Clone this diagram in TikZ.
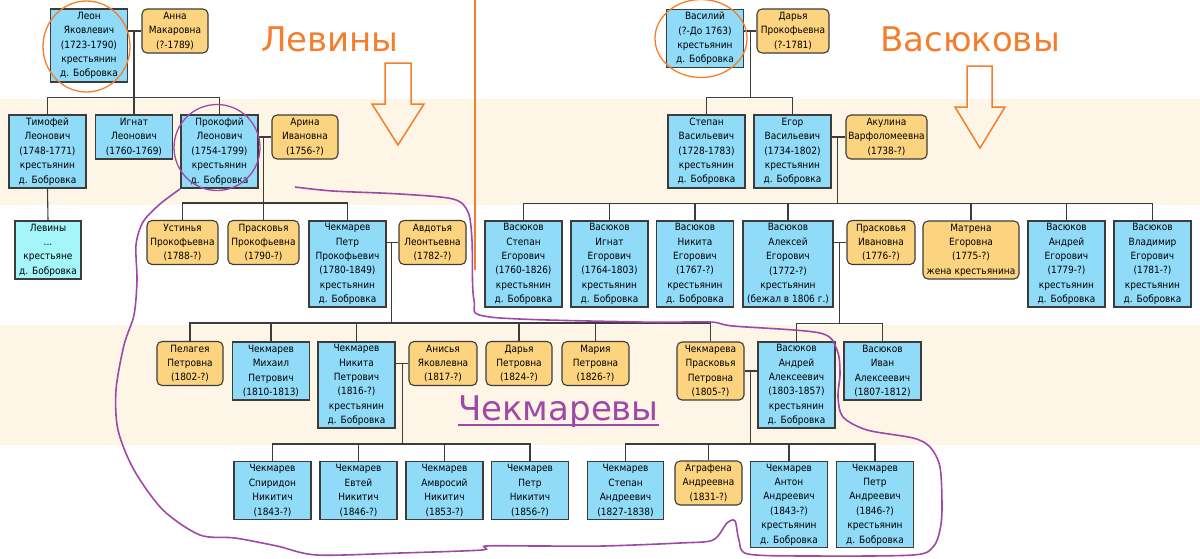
\documentclass[tikz,border=0pt]{standalone}
\usepackage{fontspec}
\setmainfont{DejaVu Sans Condensed}
\newfontfamily\headfont{DejaVu Sans}
\usepackage{xcolor}
\usepackage{tikz}
\usetikzlibrary{calc}

\definecolor{manblue}{RGB}{143,219,248}
\definecolor{womanorange}{RGB}{252,212,127}
\definecolor{kincyan}{RGB}{164,246,248}
\definecolor{bandbeige}{RGB}{253,245,229}
\definecolor{clanorange}{RGB}{244,126,45}
\definecolor{clanpurple}{RGB}{160,72,168}
\definecolor{treeline}{RGB}{60,60,60}

\begin{document}
\begin{tikzpicture}[x=1pt, y=-1pt,
    font=\fontsize{10}{14.4}\selectfont,
    man/.style={draw=treeline, fill=manblue, line width=1.1pt, align=center,
      inner sep=0pt, minimum width=77},
    woman/.style={man, fill=womanorange, rounded corners=5pt, minimum width=67},
    kin/.style={man, fill=kincyan, minimum width=66},
    l3/.style={minimum height=44}, l4/.style={minimum height=58},
    l5/.style={minimum height=73}, l6/.style={minimum height=86},
    link/.style={draw=treeline, line width=1.1pt},
    clan/.style={font=\headfont\fontsize{34}{40}\selectfont, inner sep=0pt},
    ring/.style={line width=1.3pt}]
    \useasboundingbox (0,0) rectangle (1200,558);
    \fill[bandbeige] (0,99) rectangle (1200,205);
    \fill[bandbeige] (0,325) rectangle (1200,445);

    % Levin side
    \node[man, l5] (leon) at (89,45.5) {Леон\\Яковлевич\\(1723-1790)\\крестьянин\\д. Бобровка};
    \node[woman, l3, minimum width=66] (anna) at (175,31) {Анна\\Макаровна\\(?-1789)};
    \node[man, l5] (timofej) at (47.5,151.5) {Тимофей\\Леонович\\(1748-1771)\\крестьянин\\д. Бобровка};
    \node[man, l3] (ignat) at (134,137) {Игнат\\Леонович\\(1760-1769)};
    \node[man, l5] (prokofij) at (219.5,151.5) {Прокофий\\Леонович\\(1754-1799)\\крестьянин\\д. Бобровка};
    \node[woman, l3, minimum width=66] (arina) at (305,137) {Арина\\Ивановна\\(1756-?)};
    \node[kin, l4] (levin) at (48,250) {Левины\\...\\крестьяне\\д. Бобровка};
    \node[woman, l3, minimum width=71] (ustinja) at (182.5,242.5) {Устинья\\Прокофьевна\\(1788-?)};
    \node[woman, l3, minimum width=71] (praskovja1) at (263.5,242.5) {Прасковья\\Прокофьевна\\(1790-?)};
    \node[man, l6] (petr) at (347.5,264) {Чекмарев\\Петр\\Прокофьевич\\(1780-1849)\\крестьянин\\д. Бобровка};
    \node[woman, l3] (avdotja) at (432.5,242.5) {Авдотья\\Леонтьевна\\(1782-?)};

    % Chekmarev rows
    \node[woman, l3, minimum width=66] (pelageja) at (190,363.5) {Пелагея\\Петровна\\(1802-?)};
    \node[man, l4] (mikhail) at (271,371) {Чекмарев\\Михаил\\Петрович\\(1810-1813)};
    \node[man, l6] (nikita) at (356.5,385) {Чекмарев\\Никита\\Петрович\\(1816-?)\\крестьянин\\д. Бобровка};
    \node[woman, l3, minimum width=68] (anisja) at (443,363.5) {Анисья\\Яковлевна\\(1817-?)};
    \node[woman, l3, minimum width=66] (darja2) at (519,363.5) {Дарья\\Петровна\\(1824-?)};
    \node[woman, l3] (marija) at (595.5,363.5) {Мария\\Петровна\\(1826-?)};
    \node[woman, l4] (praskovja3) at (710.5,371) {Чекмарева\\Прасковья\\Петровна\\(1805-?)};
    \node[man, l4] (spiridon) at (272.5,490.5) {Чекмарев\\Спиридон\\Никитич\\(1843-?)};
    \node[man, l4] (evtej) at (358.5,490.5) {Чекмарев\\Евтей\\Никитич\\(1846-?)};
    \node[man, l4] (amvrosij) at (444.5,490.5) {Чекмарев\\Амвросий\\Никитич\\(1853-?)};
    \node[man, l4] (petrN) at (530,490.5) {Чекмарев\\Петр\\Никитич\\(1856-?)};
    \node[man, l4, minimum width=76] (stepanA) at (625.5,490.5) {Чекмарев\\Степан\\Андреевич\\(1827-1838)};
    \node[woman, l3] (agrafena) at (708.5,483) {Аграфена\\Андреевна\\(1831-?)};
    \node[man, l6] (anton) at (789,504.5) {Чекмарев\\Антон\\Андреевич\\(1843-?)\\крестьянин\\д. Бобровка};
    \node[man, l6] (petrA) at (875,504.5) {Чекмарев\\Петр\\Андреевич\\(1846-?)\\крестьянин\\д. Бобровка};

    % Vasjukov side
    \node[man, l4] (vasilij) at (705,38.5) {Василий\\(?-До 1763)\\крестьянин\\д. Бобровка};
    \node[woman, l3, minimum width=72] (darja) at (793,31) {Дарья\\Прокофьевна\\(?-1781)};
    \node[man, l5] (stepan) at (706.5,151.5) {Степан\\Васильевич\\(1728-1783)\\крестьянин\\д. Бобровка};
    \node[man, l5] (egor) at (792.5,151.5) {Егор\\Васильевич\\(1734-1802)\\крестьянин\\д. Бобровка};
    \node[woman, l3, minimum width=81] (akulina) at (886.5,137) {Акулина\\Варфоломеевна\\(1738-?)};
    \node[man, l6] (vstepan) at (523.5,264) {Васюков\\Степан\\Егорович\\(1760-1826)\\крестьянин\\д. Бобровка};
    \node[man, l6] (vignat) at (609.5,264) {Васюков\\Игнат\\Егорович\\(1764-1803)\\крестьянин\\д. Бобровка};
    \node[man, l6] (vnikita) at (695,264) {Васюков\\Никита\\Егорович\\(1767-?)\\крестьянин\\д. Бобровка};
    \node[man, l6, minimum width=90] (aleksej) at (788,264) {Васюков\\Алексей\\Егорович\\(1772-?)\\крестьянин\\(бежал в 1806 г.)};
    \node[woman, l3, minimum width=68] (praskovja2) at (881,242.5) {Прасковья\\Ивановна\\(1776-?)};
    \node[woman, l4, minimum width=96] (matrena) at (971,250) {Матрена\\Егоровна\\(1775-?)\\жена крестьянина};
    \node[man, l6] (andrej) at (1066.5,264) {Васюков\\Андрей\\Егорович\\(1779-?)\\крестьянин\\д. Бобровка};
    \node[man, l6] (vladimir) at (1152.5,264) {Васюков\\Владимир\\Егорович\\(1781-?)\\крестьянин\\д. Бобровка};
    \node[man, l6] (andrejA) at (796.5,385) {Васюков\\Андрей\\Алексеевич\\(1803-1857)\\крестьянин\\д. Бобровка};
    \node[man, l4] (ivan) at (882.5,371) {Васюков\\Иван\\Алексеевич\\(1807-1812)};

    % couples and children
    \draw[link] (leon.east |- anna.west) -- (anna.west);
    \coordinate (jLeon) at (ignat.north |- anna.west);
    \draw[link] (jLeon) -- (ignat.north);
    \draw[link] (timofej.north) -- ++(0,-17) -| (prokofij.north);
    \draw[link] (timofej.south) -- (levin.north);

    \draw[link] (prokofij.east |- arina.west) -- (arina.west);
    \coordinate (jProk) at (praskovja1.north |- arina.west);
    \draw[link] (jProk) -- (praskovja1.north);
    \draw[link] (ustinja.north) -- ++(0,-17) -| (petr.north);

    \draw[link] (petr.east |- avdotja.west) -- (avdotja.west);
    \coordinate (jPetr) at ($(petr.east |- avdotja.west)+(5,0)$);
    \draw[link] (pelageja.north) -- ++(0,-18) coordinate (barPetr) -| (praskovja3.north);
    \draw[link] (jPetr) -- (jPetr |- barPetr);
    \foreach \c in {mikhail,nikita,darja2,marija}
      \draw[link] (\c.north) -- (\c.north |- barPetr);

    \draw[link] (nikita.east |- anisja.west) -- (anisja.west);
    \coordinate (jNik) at ($(nikita.east |- anisja.west)+(7,0)$);
    \draw[link] (spiridon.north) -- ++(0,-17) coordinate (barNik) -| (petrN.north);
    \draw[link] (jNik) -- (jNik |- barNik);
    \foreach \c in {evtej,amvrosij}
      \draw[link] (\c.north) -- (\c.north |- barNik);

    \draw[link] (vasilij.east |- darja.west) -- (darja.west);
    \coordinate (jVas) at ($(vasilij.east |- darja.west)+(6,0)$);
    \draw[link] (stepan.north) -- ++(0,-17) coordinate (barVas) -| (egor.north);
    \draw[link] (jVas) -- (jVas |- barVas);

    \draw[link] (egor.east |- akulina.west) -- (akulina.west);
    \coordinate (jEgor) at ($(egor.east |- akulina.west)+(6,0)$);
    \draw[link] (vstepan.north) -- ++(0,-17) coordinate (barEgor) -| (vladimir.north);
    \draw[link] (jEgor) -- (jEgor |- barEgor);
    \foreach \c in {vignat,vnikita,aleksej,matrena,andrej}
      \draw[link] (\c.north) -- (\c.north |- barEgor);

    \draw[link] (aleksej.east |- praskovja2.west) -- (praskovja2.west);
    \coordinate (jAlek) at ($(aleksej.east |- praskovja2.west)+(6,0)$);
    \draw[link] (andrejA.north) -- ++(0,-18) coordinate (barAlek) -| (ivan.north);
    \draw[link] (jAlek) -- (jAlek |- barAlek);

    \draw[link] (praskovja3.east) -- (andrejA.west |- praskovja3.east);
    \coordinate (jAndr) at ($(praskovja3.east)+(6,0)$);
    \draw[link] (stepanA.north) -- ++(0,-17) coordinate (barAndr) -| (petrA.north);
    \draw[link] (jAndr) -- (jAndr |- barAndr);
    \foreach \c in {agrafena,anton}
      \draw[link] (\c.north) -- (\c.north |- barAndr);

    % marks
    \draw[clanorange, line width=1.5pt] (475,0) -- (475,270);
    \draw[clanorange, ring] (86.5,46.5) ellipse [x radius=43.5, y radius=45.5];
    \draw[clanorange, ring] (701,38.5) ellipse [x radius=46, y radius=39];
    \draw[clanpurple, ring] (217,147.5) ellipse [x radius=43, y radius=43];
    \draw[clanorange, line width=1.5pt] (385,63) -- (411,63) -- (411,104) -- (424,104)
      -- (398,145) -- (372,104) -- (385,104) -- cycle;
    \draw[clanorange, line width=1.5pt] (967,66) -- (992,66) -- (992,107) -- (1005,107)
      -- (980,148) -- (955,107) -- (967,107) -- cycle;
    \draw[clanpurple, line width=1.6pt] plot[smooth] coordinates {
      (180,189) (160,204) (143,222) (136,245) (137,280) (134,315) (124,345)
      (116,390) (118,430) (134,470) (163,510) (200,535) (235,538) (277,546)
      (317,555) (400,553) (482,550) (486,546) (540,546) (603,546) (680,543)
      (713,540) (727,523) (735,521) (739,540) (748,554) (813,556) (913,555)
      (933,547) (940,530) (942,507) (940,467) (930,447) (913,438) (867,430)
      (843,417) (838,397) (840,373) (837,350) (820,333) (733,326) (710,322)
      (640,322) (490,317) (474,300) (472,240) (468,212) (453,199) (400,194)
      (333,191) (295,187)};

    \node[clan, text=clanorange, anchor=base] (levinyT) at (330,51) {Левины};
    \node[clan, text=clanorange, anchor=base] (vasjukovyT) at (970,51) {Васюковы};
    \node[clan, text=clanpurple, anchor=base west] (chekT) at (458,420) {Чекмаревы};
    \draw[clanpurple, line width=2pt] ($(chekT.base west)+(0,5)$) -- ($(chekT.base east)+(0,5)$);
\end{tikzpicture}
\end{document}
